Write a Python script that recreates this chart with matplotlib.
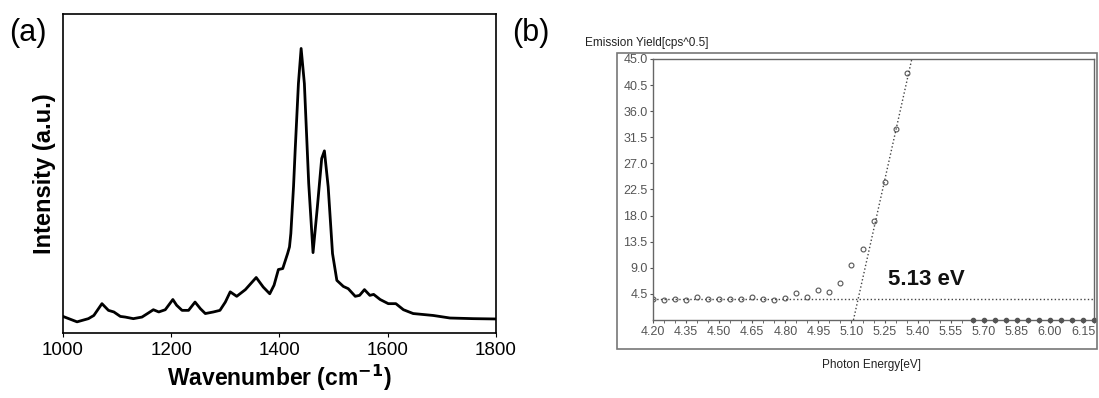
import numpy as np
import matplotlib.pyplot as plt
from matplotlib.patches import Rectangle
from matplotlib.ticker import MultipleLocator

plt.rcParams['font.family'] = ['Liberation Sans', 'DejaVu Sans']

# ---- panel (a): Raman spectrum ----
wavenumber = [1000, 1026, 1047, 1057, 1072, 1084, 1094, 1106, 1115, 1130, 1146, 1158,
              1167, 1177, 1189, 1203, 1210, 1220, 1232, 1244, 1254, 1263, 1278, 1290,
              1300, 1309, 1321, 1337, 1357, 1370, 1382, 1390, 1398, 1406, 1415, 1418.5,
              1421, 1426, 1429, 1435, 1440, 1446, 1454, 1462, 1470, 1478, 1483, 1490,
              1498, 1506, 1518, 1527, 1540, 1548, 1557, 1567, 1574, 1586, 1601, 1615,
              1629, 1647, 1684, 1715, 1758, 1800]
intensity = [5.2, 3.5, 4.5, 5.5, 9.2, 7.1, 6.6, 5.2, 5.0, 4.5, 5.0, 6.3,
             7.3, 6.6, 7.3, 10.5, 8.7, 7.1, 7.1, 9.7, 7.6, 6.1, 6.6, 7.1,
             9.7, 12.9, 11.5, 13.6, 17.4, 14.4, 12.3, 15.0, 19.9, 20.2, 24.9, 27.0,
             31.2, 46.0, 57.3, 78.2, 89.2, 78.2, 46.9, 25.2, 39.5, 54.7, 57.1, 45.8,
             24.9, 16.5, 14.6, 13.9, 11.5, 11.8, 13.6, 11.8, 12.1, 10.5, 9.2, 9.2,
             7.3, 6.1, 5.5, 4.7, 4.5, 4.4]
wn_ticks = [1000, 1200, 1400, 1600, 1800]

# ---- panel (b): photoemission yield ----
energy = [4.20, 4.25, 4.30, 4.35, 4.40, 4.45, 4.50, 4.55, 4.60, 4.65, 4.70, 4.75,
          4.80, 4.85, 4.90, 4.95, 5.00, 5.05, 5.10, 5.15, 5.20, 5.25, 5.30, 5.35]
yield_ = [3.6, 3.4, 3.7, 3.5, 4.0, 3.6, 3.7, 3.7, 3.7, 3.9, 3.6, 3.4,
          3.8, 4.6, 3.9, 5.2, 4.8, 6.3, 9.4, 12.2, 17.1, 23.8, 33.0, 42.5]
energy_zero = [5.65, 5.70, 5.75, 5.80, 5.85, 5.90, 5.95, 6.00, 6.05, 6.10, 6.15, 6.20]
yield_zero = [0] * len(energy_zero)
baseline = 3.6
threshold = 5.13
slope = 170.0

fig = plt.figure(figsize=(10.99, 3.98), dpi=100)

ax1 = fig.add_axes([0.0573, 0.1633, 0.394, 0.8015])
ax1.plot(wavenumber, intensity, color='black', lw=2)
ax1.set_xlim(1000, 1800)
ax1.set_ylim(0, 100)
ax1.set_xticks(wn_ticks)
ax1.set_yticks([])
ax1.tick_params(axis='x', labelsize=13.5, length=3, direction='out')
for s in ax1.spines.values():
    s.set_linewidth(1.2)
ax1.set_xlabel('Wavenumber (cm$^{\\mathbf{-1}}$)', fontsize=16.5, fontweight='bold', labelpad=3)
ax1.set_ylabel('Intensity (a.u.)', fontsize=17, fontweight='bold', labelpad=5)
fig.text(0.008, 0.917, '(a)', fontsize=22, va='center')
fig.text(0.466, 0.917, '(b)', fontsize=22, va='center')

# outer frame of panel (b)
fig.patches.append(Rectangle((0.5614, 0.1231), 0.4368, 0.7437, transform=fig.transFigure,
                             fill=False, edgecolor='#777777', lw=1.2))

ax2 = fig.add_axes([0.5942, 0.196, 0.4013, 0.6558])
ax2.plot(energy, yield_, 'o', ms=3.5, mfc='none', mec='#555555', mew=0.8)
ax2.plot(energy_zero, yield_zero, 'o', ms=3, color='#555555', clip_on=False, zorder=5)
ax2.axhline(baseline, color='#444444', ls=':', lw=1)
xf = np.array([threshold - baseline / slope, threshold + (45 - baseline) / slope])
ax2.plot(xf, baseline + slope * (xf - threshold), color='#444444', ls=':', lw=1)
ax2.set_xlim(4.20, 6.20)
ax2.set_ylim(0, 45)
ax2.set_xticks(np.arange(4.20, 6.16, 0.15))
ax2.set_xticklabels(['%.2f' % v for v in np.arange(4.20, 6.16, 0.15)])
ax2.xaxis.set_minor_locator(MultipleLocator(0.05))
ax2.set_yticks(np.arange(4.5, 45.1, 4.5))
ax2.set_yticklabels(['%.1f' % v for v in np.arange(4.5, 45.1, 4.5)])
ax2.tick_params(which='both', labelsize=9, colors='#555555', length=2, pad=2)
for s in ax2.spines.values():
    s.set_color('#666666')
    s.set_linewidth(1)
ax2.text(5.265, 6.0, '%.2f eV' % threshold, fontsize=16, fontweight='bold', color='#111111')
fig.text(0.532, 0.892, 'Emission Yield[cps^0.5]', fontsize=8.5, color='#222222', va='center')
fig.text(0.793, 0.083, 'Photon Energy[eV]', fontsize=8.5, color='#222222', ha='center', va='center')

fig.savefig('out.png', dpi=100)
